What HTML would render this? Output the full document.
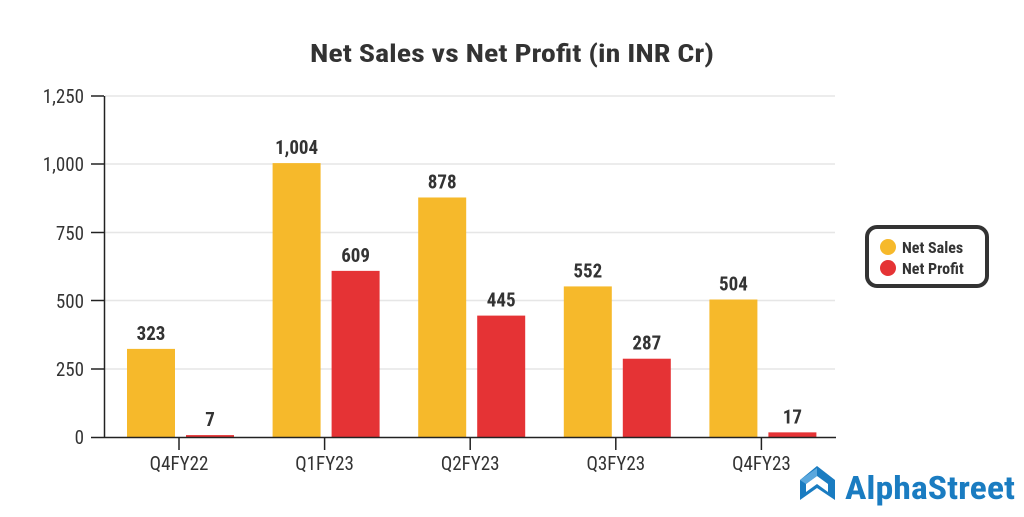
<!DOCTYPE html>
<html><head><meta charset="utf-8"><style>
body{margin:0;background:#fff;}
svg text{font-family:"Roboto Condensed","Liberation Sans Narrow","Liberation Sans",sans-serif;}
</style></head><body>
<svg width="1024" height="512" viewBox="0 0 1024 512" xmlns="http://www.w3.org/2000/svg">
<rect width="1024" height="512" fill="#fff"/>
<text x="512" y="62" text-anchor="middle" font-size="25" font-weight="bold" fill="#333" textLength="404" lengthAdjust="spacingAndGlyphs">Net Sales vs Net Profit (in INR Cr)</text>
<g stroke="#e6e6e6" stroke-width="1.5">
<line x1="105" y1="96" x2="835" y2="96"/>
<line x1="105" y1="164" x2="835" y2="164"/>
<line x1="105" y1="232.5" x2="835" y2="232.5"/>
<line x1="105" y1="300.5" x2="835" y2="300.5"/>
<line x1="105" y1="369" x2="835" y2="369"/>
</g>
<g font-size="19" fill="#333" text-anchor="end">
<text x="84" y="103">1,250</text>
<text x="84" y="171">1,000</text>
<text x="84" y="240">750</text>
<text x="84" y="308">500</text>
<text x="84" y="376">250</text>
<text x="84" y="444">0</text>
</g>
<g stroke="#222" stroke-width="1.5">
<line x1="104.5" y1="96" x2="104.5" y2="437"/>
<line x1="91" y1="96" x2="104" y2="96"/>
<line x1="91" y1="164" x2="104" y2="164"/>
<line x1="91" y1="232.5" x2="104" y2="232.5"/>
<line x1="91" y1="300.5" x2="104" y2="300.5"/>
<line x1="91" y1="369" x2="104" y2="369"/>
</g>
<g id="bars"></g>
<line x1="91" y1="437.5" x2="836" y2="437.5" stroke="#222" stroke-width="1.5"/>
<g font-size="19" fill="#333" text-anchor="middle" id="cats"></g>
<rect x="867" y="227" width="120" height="59" rx="10" fill="#fff" stroke="#333" stroke-width="4"/>
<circle cx="888" cy="247" r="8" fill="#f6b92b"/>
<circle cx="888" cy="268" r="8" fill="#e53335"/>
<text x="902" y="253" font-size="16" font-weight="bold" fill="#333">Net Sales</text>
<text x="902" y="274" font-size="16" font-weight="bold" fill="#333">Net Profit</text>
<g transform="translate(800,466)">
<path d="M17 0 L35 14 L35 34 L17 22 L0 34 L0 14 Z" fill="#1a7cc1"/>
<path d="M17 10 L28 18 L28 26 L17 18 L6 26 L6 18 Z" fill="#fff"/>
<path d="M0 14 L17 2 L17 10 L6 18 Z" fill="#5aa7dd"/>
</g>
<text x="845" y="499" font-size="32" font-weight="bold" fill="#1a7cc1" textLength="170" lengthAdjust="spacingAndGlyphs">AlphaStreet</text>
<script>
var s=[323,1004,878,552,504],p=[7,609,445,287,17],n=["Q4FY22","Q1FY23","Q2FY23","Q3FY23","Q4FY23"];
var ns="http://www.w3.org/2000/svg",b=document.getElementById("bars"),c=document.getElementById("cats");
function el(t,a,par,txt){var e=document.createElementNS(ns,t);for(var k in a)e.setAttribute(k,a[k]);if(txt!==undefined)e.textContent=txt;par.appendChild(e);return e;}
for(var i=0;i<5;i++){var cx=180+145.6*i;
[[s[i],cx-53,"#f6b92b"],[p[i],cx+6,"#e53335"]].forEach(function(d){var h=d[0]*0.2728;
el("rect",{x:d[1],y:437-h,width:48,height:h,fill:d[2]},b);
el("text",{x:d[1]+24,y:437-h-9,"text-anchor":"middle","font-size":"19","font-weight":"bold",fill:"#333"},b,d[0].toLocaleString("en-US"));});
el("line",{x1:cx-1,y1:437,x2:cx-1,y2:450,stroke:"#222","stroke-width":"1.5"},b);
el("text",{x:cx-1,y:470},c,n[i]);}
</script>
</svg>
</body></html>
